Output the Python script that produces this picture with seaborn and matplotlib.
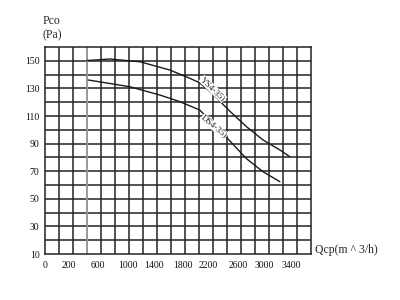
import matplotlib
matplotlib.use("Agg")
import matplotlib.pyplot as plt
import seaborn as sns
import pandas as pd
import numpy as np

# x values are in the chart's grid units (one grid cell = 200)
upper_x = [600, 928, 1358, 1786, 2072, 2214, 2386, 2642, 2882, 3118, 3358, 3500]
upper_y = [150.2, 151.3, 149.3, 143.3, 137.3, 134.0, 126.5, 113.5, 102.2, 92.6, 85.4, 80.5]
lower_x = [618, 1214, 1642, 1928, 2214, 2400, 2642, 2882, 3118, 3358]
lower_y = [136.1, 131.2, 125.2, 120.4, 114.3, 104.5, 92.0, 79.0, 69.6, 62.4]

x_tick_pos = [0, 342, 762, 1186, 1558, 1976, 2332, 2762, 3128, 3524]
x_tick_labels = ["0", "200", "600", "1000", "1400", "1800", "2200", "2600", "3000", "3400"]
y_ticks = [10, 30, 50, 70, 90, 110, 130, 150]

sns.set_style("white")
plt.rcParams['font.family'] = ['Liberation Serif', 'DejaVu Serif']

fig = plt.figure(figsize=(4, 3), dpi=100)
ax = fig.add_axes([0.1125, 0.1533, 0.6645, 0.69])

df = pd.concat([
    pd.DataFrame({"Q": upper_x, "P": upper_y, "curve": "YS4-35"}),
    pd.DataFrame({"Q": lower_x, "P": lower_y, "curve": "DS4-35"}),
])
sns.lineplot(data=df, x="Q", y="P", hue="curve", palette=["#1a1a1a", "#1a1a1a"],
             legend=False, ax=ax, linewidth=1.0, zorder=5)

ax.set_xlim(0, 3800)
ax.set_ylim(10, 160)
grid_c = "#232323"
ax.vlines(np.arange(200, 3800, 200), 10, 160, color=grid_c, linewidth=1.1, zorder=2)
ax.hlines(np.arange(20, 160, 10), 0, 3800, color=grid_c, linewidth=1.1, zorder=2)
ax.vlines([600], 10, 160, color="#b0b0b0", linewidth=1.1, zorder=2.5)

ax.set_xticks(x_tick_pos)
ax.set_xticklabels(x_tick_labels)
ax.set_yticks(y_ticks)
ax.set_yticklabels([str(v) for v in y_ticks])
ax.grid(False)
ax.tick_params(which="both", length=0, labelcolor="#111111")
ax.tick_params(axis="x", labelsize=7.0, pad=5)
ax.tick_params(axis="y", labelsize=7.0, pad=4)
for s in ax.spines.values():
    s.set_color(grid_c)
    s.set_linewidth(1.1)
ax.set_xlabel("")
ax.set_ylabel("")

ax.text(2400, 129.5, "YS4-35)", rotation=-44, fontsize=6.6, ha="center", va="center", zorder=6,
        bbox=dict(facecolor="white", edgecolor="none", pad=0.2))
ax.text(2420, 102.5, "DS4-35)", rotation=-40, fontsize=6.6, ha="center", va="center", zorder=6,
        bbox=dict(facecolor="white", edgecolor="none", pad=0.2))

fig.text(52 / 400, 1 - 20.7 / 300, "Pco", fontsize=8.5, ha="center", va="center")
fig.text(52 / 400, 1 - 35 / 300, "(Pa)", fontsize=8.5, ha="center", va="center")
fig.text(315 / 400, 1 - 249.5 / 300, "Qcp(m ^ 3/h)", fontsize=8.5, ha="left", va="center")

fig.savefig("out.png", dpi=100, facecolor="white")
